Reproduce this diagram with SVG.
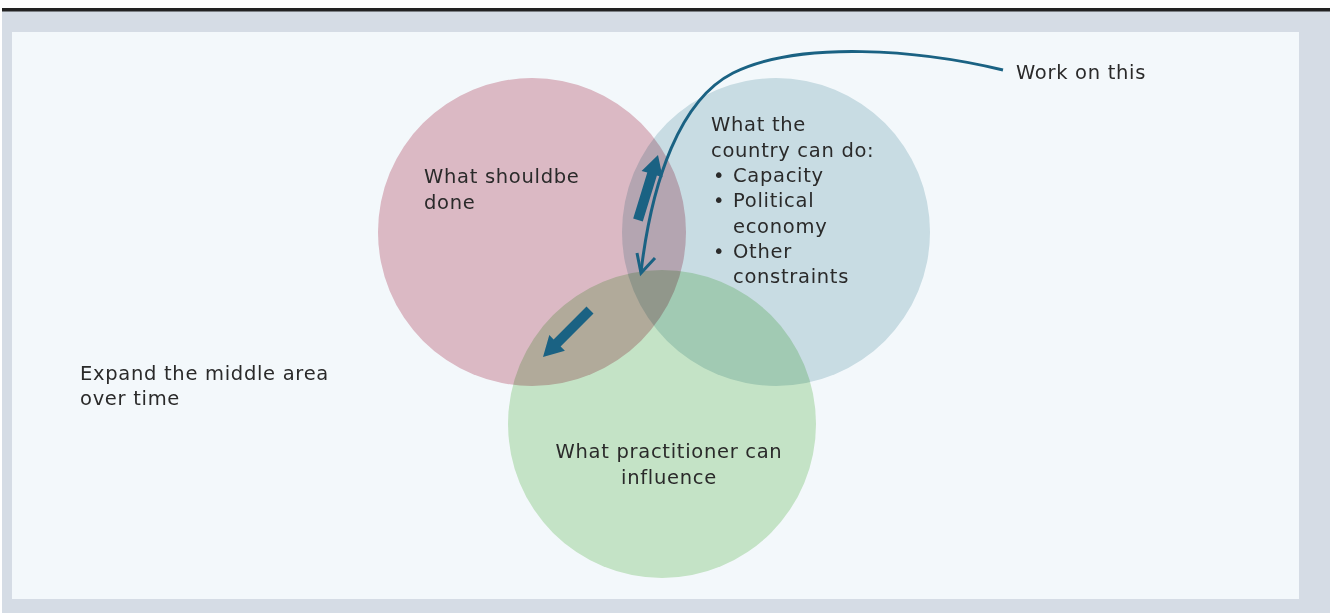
<svg xmlns="http://www.w3.org/2000/svg" width="1330" height="613" viewBox="0 0 1330 613">
<style>
.t{font-family:"DejaVu Sans","Liberation Sans",sans-serif;font-size:19.5px;fill:#2a2a2a;letter-spacing:0.7px}
.c{mix-blend-mode:multiply}
.thick{fill:#1a6283}
.line{fill:none;stroke:#1a6283;stroke-width:3}
</style>
<rect x="0" y="0" width="1330" height="613" fill="#ffffff"/>
<rect x="2" y="11" width="1328" height="602" fill="#d5dce5"/>
<rect x="2" y="8" width="1328" height="3.5" fill="#222222"/>
<rect x="12" y="32" width="1287" height="567" fill="#f3f8fb"/>
<g id="circles">
<g id="pink"><circle class="c" cx="532" cy="232" r="154" fill="#e6bec7"/></g>
<g id="blue"><circle class="c" cx="776" cy="232" r="154" fill="#d2e3e7"/></g>
<g id="green"><circle class="c" cx="662" cy="424" r="154" fill="#ceeac9"/></g>
</g>
<g id="connectors">
<path class="line" d="M1003,70 C920,50 800,40 733,73 C680,100 652,180 641,272"/>
<path class="line" d="M637,253 L641,273 L655,258"/>
<path class="thick" d="M633.2,218.5 L647.3,172.6 L641.6,170.9 L658,155 L662.6,177.3 L656.9,175.6 L642.8,221.5 Z"/>
<path class="thick" d="M593.5,313.5 L586.5,306.5 L553.6,339.4 L549.3,335.1 L543,357 L564.9,350.7 L560.6,346.4 Z"/>
</g>
<g id="label-should">
<text class="t" x="424" y="183">What shouldbe</text>
<text class="t" x="424" y="209">done</text>
</g>
<g id="label-country">
<text class="t" x="711" y="131">What the</text>
<text class="t" x="711" y="157">country can do:</text>
<text class="t" x="713" y="182">•</text><text class="t" x="733" y="182">Capacity</text>
<text class="t" x="713" y="207">•</text><text class="t" x="733" y="207">Political</text>
<text class="t" x="733" y="233">economy</text>
<text class="t" x="713" y="258">•</text><text class="t" x="733" y="258">Other</text>
<text class="t" x="733" y="283">constraints</text>
</g>
<g id="label-practitioner">
<text class="t" x="669" y="458" text-anchor="middle">What practitioner can</text>
<text class="t" x="669" y="484" text-anchor="middle">influence</text>
</g>
<g id="label-work"><text class="t" x="1016" y="79">Work on this</text></g>
<g id="label-expand">
<text class="t" x="80" y="380">Expand the middle area</text>
<text class="t" x="80" y="405">over time</text>
</g>
</svg>
